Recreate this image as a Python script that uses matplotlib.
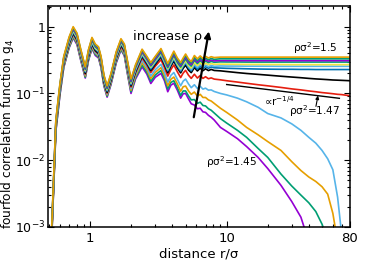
import numpy as np
import matplotlib
matplotlib.use("Agg")
import matplotlib.pyplot as plt
from matplotlib.ticker import FixedLocator, NullFormatter

nan = np.nan

# common radial grid (r / sigma)
r = [0.52, 0.56, 0.60, 0.64, 0.70, 0.75, 0.80, 0.85, 0.92, 0.97, 1.03, 1.09, 1.15, 1.20, 1.26, 1.33, 1.42, 1.55, 1.68,
     1.78, 1.88, 1.99, 2.15, 2.4, 2.6, 2.78, 3.0, 3.3, 3.5, 3.7, 3.9, 4.1, 4.35, 4.6, 4.8, 5.0, 5.25, 5.5,
     5.8, 6.1, 6.4, 6.7, 7.0, 7.35, 7.7, 8.1,
     9, 10, 12, 14, 17, 20, 25, 30, 35, 40, 45, 50, 55, 60, 65, 70, 75, 80]

# curves, from lowest density (rho sigma^2 = 1.45) to highest (1.5)
g_purple_145 = [0.00054, 0.027, 0.095, 0.245, 0.48, 0.68, 0.54, 0.32, 0.17, 0.31, 0.47, 0.37, 0.34, 0.245, 0.13, 0.088, 0.136, 0.285, 0.45,
                0.365, 0.19, 0.1, 0.165, 0.25, 0.195, 0.141, 0.175, 0.2, 0.155, 0.106, 0.133, 0.142, 0.112, 0.085, 0.099, 0.1, 0.083, 0.07,
                0.067, 0.059, 0.06, 0.053, 0.052, 0.047, 0.044, 0.04,
                0.031, 0.027, 0.021, 0.016, 0.011, 0.0075, 0.0042, 0.0024, 0.0014, 0.0006, nan, nan, nan, nan, nan, nan, nan, nan]
g_green_a = [0.00056, 0.028, 0.098, 0.25, 0.49, 0.70, 0.56, 0.33, 0.175, 0.315, 0.48, 0.385, 0.35, 0.25, 0.133, 0.091, 0.14, 0.295, 0.46,
             0.375, 0.195, 0.106, 0.173, 0.267, 0.209, 0.152, 0.189, 0.221, 0.169, 0.117, 0.146, 0.155, 0.122, 0.093, 0.109, 0.109, 0.092, 0.08,
             0.081, 0.071, 0.074, 0.066, 0.065, 0.059, 0.056, 0.051,
             0.042, 0.036, 0.028, 0.022, 0.015, 0.011, 0.0062, 0.0041, 0.003, 0.0023, 0.0017, 0.0011, 0.0006, nan, nan, nan, nan, nan]
g_orange_a = [0.00058, 0.029, 0.102, 0.26, 0.51, 0.73, 0.58, 0.34, 0.183, 0.33, 0.50, 0.40, 0.365, 0.26, 0.139, 0.095, 0.146, 0.31, 0.48,
              0.39, 0.205, 0.112, 0.183, 0.29, 0.227, 0.167, 0.207, 0.244, 0.187, 0.13, 0.163, 0.176, 0.139, 0.108, 0.126, 0.129, 0.109, 0.097,
              0.105, 0.091, 0.097, 0.087, 0.087, 0.08, 0.077, 0.071,
              0.06, 0.052, 0.04, 0.031, 0.024, 0.019, 0.014, 0.0095, 0.007, 0.0056, 0.0048, 0.004, 0.0031, 0.0016, 0.0006, nan, nan, nan]
g_lightblue_a = [0.0006, 0.03, 0.105, 0.27, 0.53, 0.75, 0.60, 0.35, 0.19, 0.34, 0.52, 0.41, 0.375, 0.27, 0.143, 0.098, 0.15, 0.315, 0.50,
                 0.40, 0.21, 0.118, 0.193, 0.313, 0.245, 0.183, 0.227, 0.273, 0.209, 0.148, 0.186, 0.206, 0.163, 0.13, 0.153, 0.164, 0.139, 0.122,
                 0.135, 0.119, 0.128, 0.116, 0.12, 0.112, 0.113, 0.107,
                 0.10, 0.095, 0.085, 0.075, 0.062, 0.05, 0.043, 0.035, 0.028, 0.022, 0.018, 0.014, 0.0105, 0.0072, 0.0028, 0.0007, nan, nan]
g_red_147 = [0.00062, 0.031, 0.109, 0.28, 0.55, 0.78, 0.62, 0.37, 0.195, 0.35, 0.54, 0.43, 0.39, 0.28, 0.148, 0.101, 0.156, 0.33, 0.51,
             0.424, 0.228, 0.125, 0.205, 0.34, 0.266, 0.206, 0.256, 0.32, 0.245, 0.182, 0.228, 0.267, 0.211, 0.173, 0.202, 0.222, 0.188, 0.168,
             0.194, 0.17, 0.186, 0.168, 0.178, 0.166, 0.171, 0.164,
             0.16, 0.155, 0.148, 0.142, 0.135, 0.13, 0.123, 0.117, 0.113, 0.109, 0.106, 0.103, 0.101, 0.099, 0.097, 0.096, 0.094, 0.093]
g_black = [0.00064, 0.032, 0.112, 0.29, 0.56, 0.80, 0.64, 0.38, 0.20, 0.36, 0.55, 0.44, 0.40, 0.29, 0.152, 0.104, 0.16, 0.34, 0.53,
           0.44, 0.24, 0.13, 0.213, 0.359, 0.281, 0.22, 0.274, 0.353, 0.27, 0.204, 0.256, 0.305, 0.241, 0.203, 0.238, 0.265, 0.224, 0.205,
           0.244, 0.217, 0.239, 0.219, 0.234, 0.22, 0.229, 0.221,
           0.218, 0.213, 0.205, 0.199, 0.193, 0.188, 0.181, 0.176, 0.172, 0.168, 0.165, 0.163, 0.161, 0.159, 0.158, 0.157, 0.156, 0.155]
g_blue = [0.00066, 0.033, 0.116, 0.30, 0.58, 0.83, 0.66, 0.39, 0.208, 0.37, 0.57, 0.46, 0.415, 0.30, 0.158, 0.108, 0.166, 0.35, 0.55,
          0.457, 0.249, 0.135, 0.221, 0.373, 0.292, 0.232, 0.288, 0.371, 0.284, 0.217, 0.271, 0.327, 0.258, 0.216, 0.253, 0.285, 0.241, 0.218,
          0.259, 0.231, 0.256, 0.235, 0.252, 0.238, 0.249, 0.242,
          0.24, 0.238, 0.236, 0.234, 0.232, 0.231, 0.23, 0.23, 0.229, 0.229, 0.228, 0.228, 0.228, 0.228, 0.228, 0.228, 0.228, 0.228]
g_lightblue_b = [0.00069, 0.034, 0.12, 0.31, 0.60, 0.86, 0.69, 0.40, 0.215, 0.39, 0.59, 0.47, 0.43, 0.31, 0.163, 0.112, 0.172, 0.36, 0.57,
                 0.473, 0.258, 0.14, 0.23, 0.386, 0.302, 0.241, 0.30, 0.385, 0.295, 0.225, 0.281, 0.34, 0.269, 0.225, 0.264, 0.296, 0.251, 0.226,
                 0.274, 0.244, 0.27, 0.248, 0.266, 0.252, 0.263, 0.255,
                 0.258, 0.257, 0.257, 0.256, 0.256, 0.256, 0.255, 0.255, 0.255, 0.255, 0.255, 0.255, 0.255, 0.255, 0.255, 0.255, 0.255, 0.255]
g_yellow = [0.0007, 0.035, 0.123, 0.32, 0.62, 0.88, 0.70, 0.41, 0.22, 0.40, 0.61, 0.48, 0.44, 0.32, 0.167, 0.114, 0.176, 0.37, 0.58,
            0.484, 0.264, 0.144, 0.236, 0.40, 0.313, 0.249, 0.31, 0.40, 0.306, 0.235, 0.294, 0.353, 0.279, 0.235, 0.275, 0.312, 0.264, 0.24,
            0.292, 0.261, 0.288, 0.265, 0.284, 0.269, 0.28, 0.273,
            0.275, 0.274, 0.273, 0.272, 0.272, 0.271, 0.271, 0.27, 0.27, 0.27, 0.27, 0.27, 0.27, 0.27, 0.27, 0.27, 0.27, 0.27]
g_teal = [0.00073, 0.036, 0.127, 0.33, 0.64, 0.91, 0.73, 0.43, 0.228, 0.41, 0.63, 0.50, 0.455, 0.33, 0.173, 0.118, 0.182, 0.38, 0.60,
          0.50, 0.273, 0.149, 0.244, 0.414, 0.324, 0.258, 0.32, 0.414, 0.317, 0.244, 0.304, 0.37, 0.292, 0.248, 0.29, 0.33, 0.28, 0.257,
          0.315, 0.28, 0.31, 0.285, 0.306, 0.289, 0.302, 0.293,
          0.297, 0.296, 0.296, 0.295, 0.295, 0.295, 0.295, 0.295, 0.295, 0.295, 0.295, 0.295, 0.295, 0.295, 0.295, 0.295, 0.295, 0.295]
g_purple_b = [0.00075, 0.038, 0.13, 0.34, 0.66, 0.94, 0.75, 0.44, 0.235, 0.42, 0.65, 0.52, 0.47, 0.34, 0.18, 0.122, 0.19, 0.395, 0.62,
              0.517, 0.282, 0.154, 0.252, 0.428, 0.335, 0.268, 0.333, 0.432, 0.331, 0.256, 0.32, 0.39, 0.31, 0.262, 0.307, 0.35, 0.297, 0.271,
              0.33, 0.294, 0.325, 0.298, 0.32, 0.303, 0.316, 0.307,
              0.311, 0.31, 0.31, 0.31, 0.31, 0.31, 0.31, 0.31, 0.31, 0.31, 0.31, 0.31, 0.31, 0.31, 0.31, 0.31, 0.31, 0.31]
g_green_b = [0.00078, 0.039, 0.136, 0.35, 0.68, 0.97, 0.78, 0.46, 0.243, 0.44, 0.67, 0.53, 0.485, 0.35, 0.184, 0.126, 0.194, 0.41, 0.64,
             0.53, 0.29, 0.16, 0.262, 0.446, 0.35, 0.28, 0.35, 0.45, 0.345, 0.267, 0.333, 0.41, 0.323, 0.275, 0.323, 0.37, 0.313, 0.287,
             0.348, 0.31, 0.343, 0.315, 0.338, 0.32, 0.334, 0.324,
             0.331, 0.33, 0.33, 0.33, 0.33, 0.33, 0.33, 0.33, 0.33, 0.33, 0.33, 0.33, 0.33, 0.33, 0.33, 0.33, 0.33, 0.33]
g_orange_150 = [0.0008, 0.04, 0.14, 0.36, 0.70, 1.0, 0.80, 0.47, 0.25, 0.45, 0.69, 0.55, 0.50, 0.36, 0.19, 0.13, 0.2, 0.42, 0.66,
                0.55, 0.30, 0.165, 0.27, 0.46, 0.36, 0.29, 0.36, 0.47, 0.36, 0.28, 0.35, 0.43, 0.34, 0.29, 0.34, 0.39, 0.33, 0.30,
                0.37, 0.33, 0.365, 0.335, 0.36, 0.34, 0.355, 0.345,
                0.35, 0.35, 0.35, 0.35, 0.35, 0.35, 0.35, 0.35, 0.35, 0.35, 0.35, 0.35, 0.35, 0.35, 0.35, 0.35, 0.35, 0.35]

curves = [g_purple_145, g_green_a, g_orange_a, g_lightblue_a, g_red_147, g_black, g_blue,
          g_lightblue_b, g_yellow, g_teal, g_purple_b, g_green_b, g_orange_150]
colors = ['#9400D3', '#009E73', '#E69F00', '#56B4E9', '#E51E10', '#000000', '#0072B2',
          '#56B4E9', '#F0E442', '#009E73', '#9400D3', '#009E73', '#E69F00']

# power-law guide  g ~ r^(-1/4)
fit_r = [10, 67]
fit_amp = 0.136
fit_exp = -0.25

x_ticks = [1, 10, 80]
x_ticklabels = ['1', '10', '80']
y_ticks = [1e-3, 1e-2, 1e-1, 1]
y_ticklabels = [r'$10^{-3}$', r'$10^{-2}$', r'$10^{-1}$', '1']

fig = plt.figure(figsize=(3.66, 2.67), dpi=100)
ax = fig.add_axes([0.131, 0.150, 0.825, 0.828])

for g, c in zip(curves, colors):
    ax.plot(r, g, color=c, lw=1.2, solid_joinstyle='round')

fr = np.array(fit_r, dtype=float)
ax.plot(fr, fit_amp * (fr / 10.0) ** fit_exp, color='k', lw=1.0)

ax.set_xscale('log')
ax.set_yscale('log')
ax.set_xlim(0.49, 80)
ax.set_ylim(1e-3, 2.05)

ax.xaxis.set_major_locator(FixedLocator(x_ticks))
ax.set_xticklabels(x_ticklabels)
xminor = [m * 10.0 ** e for e in (-1, 0, 1) for m in range(2, 10)]
ax.xaxis.set_minor_locator(FixedLocator(xminor))
ax.xaxis.set_minor_formatter(NullFormatter())
ax.yaxis.set_major_locator(FixedLocator(y_ticks))
ax.set_yticklabels(y_ticklabels)
yminor = [m * 10.0 ** e for e in (-3, -2, -1, 0) for m in range(2, 10)]
ax.yaxis.set_minor_locator(FixedLocator(yminor))
ax.yaxis.set_minor_formatter(NullFormatter())

ax.tick_params(which='both', direction='in', top=True, right=True, labelsize=9.5, width=0.8)
ax.tick_params(axis='y', which='major', pad=2, labelsize=9)
ax.tick_params(which='major', length=4.5)
ax.tick_params(which='minor', length=2.5)
for s in ax.spines.values():
    s.set_linewidth(1.1)

ax.set_xlabel('distance r/σ', fontsize=9.5, labelpad=2)
ax.set_ylabel('fourfold correlation function g$_4$', fontsize=8.8)
ax.yaxis.set_label_coords(-0.106, 0.42)

ax.text(3.66, 0.71, 'increase ρ', fontsize=9.5, ha='center', va='center')
ax.annotate('', xy=(7.4, 0.85), xytext=(5.74, 0.044),
            arrowprops=dict(arrowstyle='-|>', lw=1.6, color='k', mutation_scale=9, shrinkA=0, shrinkB=0))
ax.text(44.4, 0.47, 'ρσ$^2$=1.5', fontsize=7.5, ha='center', va='center')
ax.text(44.4, 0.054, 'ρσ$^2$=1.47', fontsize=7.5, ha='center', va='center')
ax.annotate('', xy=(46.7, 0.093), xytext=(45.1, 0.064),
            arrowprops=dict(arrowstyle='-|>', lw=0.8, color='k', mutation_scale=5, shrinkA=0, shrinkB=0))
ax.text(10.9, 0.0093, 'ρσ$^2$=1.45', fontsize=7.5, ha='center', va='center')
ax.text(24.3, 0.078, '∝r$^{-1/4}$', fontsize=7.5, ha='center', va='center')

fig.savefig('out.png', dpi=100)
